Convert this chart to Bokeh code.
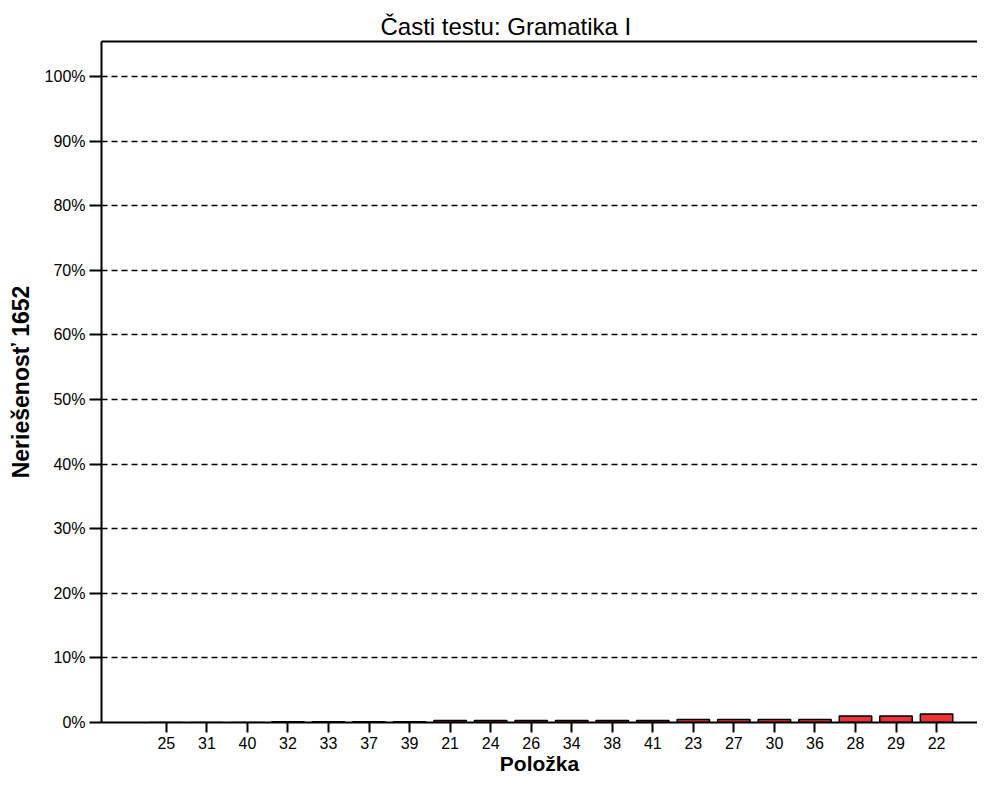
from bokeh.plotting import figure
from bokeh.models import Range1d, FixedTicker, LinearAxis
from bokeh.embed import file_html
from bokeh.resources import INLINE

# Data
items = ["25", "31", "40", "32", "33", "37", "39", "21", "24", "26",
         "34", "38", "41", "23", "27", "30", "36", "28", "29", "22"]
unsolved_pct = [0.0, 0.0, 0.0, 0.12, 0.12, 0.12, 0.12, 0.3, 0.3, 0.3,
                0.3, 0.3, 0.3, 0.45, 0.45, 0.45, 0.45, 1.0, 1.0, 1.3]
y_ticks = [0, 10, 20, 30, 40, 50, 60, 70, 80, 90, 100]
y_tick_labels = ["0%", "10%", "20%", "30%", "40%", "50%", "60%", "70%", "80%", "90%", "100%"]

positions = list(range(len(items)))

FONT = "Liberation Sans"

p = figure(width=977, height=777, output_backend="svg", toolbar_location=None,
           x_range=Range1d(-1.6, 20.01), y_range=Range1d(0, 105.4),
           min_border_left=101, min_border_right=0, min_border_top=41, min_border_bottom=51,
           title="Časti testu: Gramatika I")

p.outline_line_color = None
p.background_fill_color = "white"
p.border_fill_color = "white"

p.title.text_font = FONT
p.title.text_font_size = "24px"
p.title.text_font_style = "normal"
p.title.text_color = "black"
p.title.align = "left"
p.title.offset = 279
p.title.standoff = 3

p.vbar(x=positions, top=unsolved_pct, width=0.8, bottom=0,
       fill_color="#EE3338", line_color="black", line_width=1.5)

# x axis
xa = p.xaxis[0]
xa.ticker = FixedTicker(ticks=positions)
xa.major_label_overrides = {i: lab for i, lab in zip(positions, items)}
xa.axis_label = "Položka"
xa.axis_label_text_font = FONT
xa.axis_label_text_font_size = "21px"
xa.axis_label_text_font_style = "bold"
xa.axis_label_text_color = "black"
xa.axis_label_standoff = 0
xa.major_label_text_font = FONT
xa.major_label_text_font_size = "16px"
xa.major_label_text_color = "black"
xa.major_label_standoff = 4
xa.major_tick_out = 10
xa.major_tick_in = 0
xa.minor_tick_out = 0
xa.minor_tick_in = 0
xa.major_tick_line_width = 2
xa.major_tick_line_color = "black"
xa.axis_line_width = 2
xa.axis_line_color = "black"

# y axis
ya = p.yaxis[0]
ya.ticker = FixedTicker(ticks=y_ticks)
ya.major_label_overrides = {t: lab for t, lab in zip(y_ticks, y_tick_labels)}
ya.axis_label = "Neriešenosť 1652"
ya.axis_label_text_font = FONT
ya.axis_label_text_font_size = "23px"
ya.axis_label_text_font_style = "bold"
ya.axis_label_text_color = "black"
ya.axis_label_standoff = 8
ya.major_label_text_font = FONT
ya.major_label_text_font_size = "16px"
ya.major_label_text_color = "black"
ya.major_label_standoff = 4
ya.major_tick_out = 12
ya.major_tick_in = 0
ya.minor_tick_out = 0
ya.minor_tick_in = 0
ya.major_tick_line_width = 2
ya.major_tick_line_color = "black"
ya.axis_line_width = 2
ya.axis_line_color = "black"

# top frame line
top = LinearAxis(ticker=FixedTicker(ticks=[]), major_label_text_font_size="0px",
                 major_tick_out=0, major_tick_in=0, minor_tick_out=0, minor_tick_in=0,
                 axis_line_width=2, axis_line_color="black")
p.add_layout(top, "above")

p.xgrid.grid_line_color = None
p.ygrid.grid_line_color = "black"
p.ygrid.grid_line_dash = "6 4"
p.ygrid.grid_line_width = 1.5

open("out.html", "w").write(file_html(p, INLINE))
